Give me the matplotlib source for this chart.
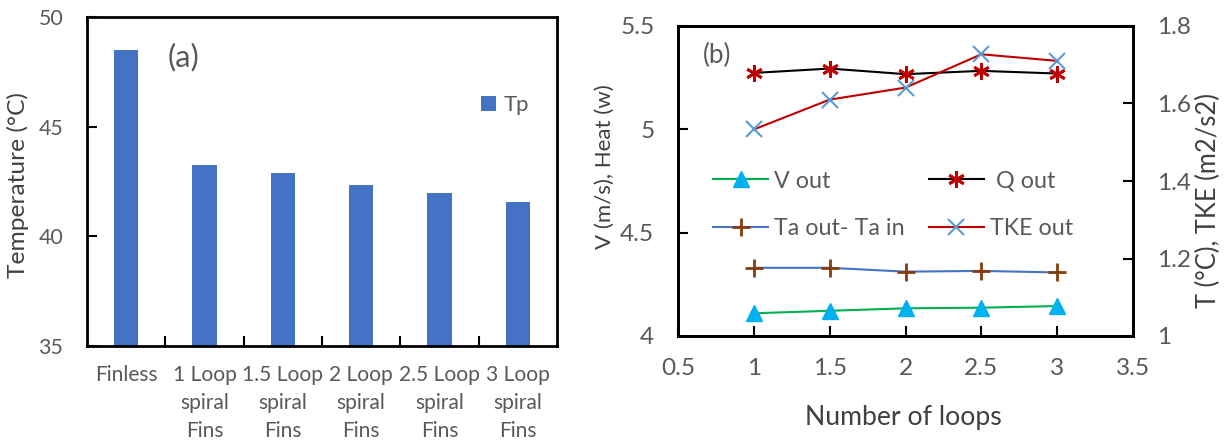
import matplotlib
matplotlib.use("Agg")
import matplotlib.pyplot as plt
from matplotlib.textpath import TextPath
from matplotlib.font_manager import FontProperties
import numpy as np

FONT = 'Lato'
plt.rcParams['font.family'] = [FONT, 'DejaVu Sans']

# ---- data (a) ----
categories = ["Finless", "1 Loop\nspiral\nFins", "1.5 Loop\nspiral\nFins",
              "2 Loop\nspiral\nFins", "2.5 Loop\nspiral\nFins", "3 Loop\nspiral\nFins"]
tp = [48.5, 43.24, 42.88, 42.35, 41.98, 41.58]
y_ticks_a = [35, 40, 45, 50]

# ---- data (b) ----
loops = [1, 1.5, 2, 2.5, 3]
v_out = [4.11, 4.122, 4.134, 4.137, 4.145]
q_out = [5.273, 5.294, 5.267, 5.283, 5.270]
ta_diff = [1.176, 1.176, 1.166, 1.168, 1.164]
tke_out = [1.533, 1.610, 1.641, 1.727, 1.710]
x_ticks_b = [0.5, 1, 1.5, 2, 2.5, 3, 3.5]
y_left_b = [4, 4.5, 5, 5.5]
y_right_b = [1, 1.2, 1.4, 1.6, 1.8]

GRAY = "#595959"
DARK = "#404040"
W, H, DPI = 1231, 441, 100


def fit(text, px):
    """font size (pt) so that the ink width of text is px pixels"""
    tpth = TextPath((0, 0), text, size=100, prop=FontProperties(family=FONT))
    w = tpth.get_extents().width
    return px * 72.0 / w


def fx(px):
    return px / W


def fy(py):
    return 1 - py / H


fig = plt.figure(figsize=(W / DPI, H / DPI), dpi=DPI)

tick_fs = fit("50", 23)
cat_fs = fit("Finless", 60)
cat_px = cat_fs * DPI / 72
cat_ls = (27.0 / cat_px - 0.2) / 0.74

# ---------- panel (a) ----------
L, R, T, B = 87, 557, 17, 346
ax1 = fig.add_axes([fx(L), fy(B), fx(R - L), (B - T) / H])
x = np.arange(len(categories))
ax1.bar(x, tp, width=0.31, color="#4472C4", label="Tp")
ax1.set_ylim(35, 50)
ax1.set_xlim(-0.5, len(categories) - 0.5)
ax1.set_yticks(y_ticks_a)
ax1.set_xticks(x)
ax1.set_xticklabels(categories, fontsize=cat_fs, color=GRAY, linespacing=cat_ls)
ax1.set_xticks(np.arange(0.5, len(categories) - 1, 1), minor=True)
ax1.tick_params(axis='x', which='major', length=0, pad=14)
ax1.tick_params(axis='x', which='minor', direction='in', length=7, width=1.5)
ax1.tick_params(axis='y', direction='in', length=7, width=1.5, labelsize=tick_fs,
                labelcolor=GRAY, pad=17)
for s in ax1.spines.values():
    s.set_linewidth(2)
fig.text(fx(18), fy(185), "Temperature (°C)", rotation=90, ha='center', va='center',
         fontsize=fit("Temperature (°C)", 184), color=DARK)
fig.text(fx(168), fy(57), "(a)", ha='left', va='center',
         fontsize=fit("(a)", 29), color=GRAY)
tp_fs = fit("Tp", 24)
ax1.legend(loc="center left", bbox_to_anchor=(fx(481), fy(105)),
           bbox_transform=fig.transFigure, frameon=False, borderpad=0,
           borderaxespad=0, fontsize=tp_fs, handlelength=0.7, handleheight=0.7,
           handletextpad=0.35, labelcolor=GRAY)

# ---------- panel (b) ----------
L2, R2, T2, B2 = 678, 1133, 26, 336
ax2 = fig.add_axes([fx(L2), fy(B2), fx(R2 - L2), (B2 - T2) / H])
ax3 = ax2.twinx()
ax2.set_xlim(0.5, 3.5)
ax2.set_ylim(4, 5.5)
ax3.set_ylim(1, 1.8)
ax2.set_xticks(x_ticks_b)
ax2.set_xticklabels([f"{v:g}" for v in x_ticks_b])
ax2.set_yticks(y_left_b)
ax2.set_yticklabels([f"{v:g}" for v in y_left_b])
ax3.set_yticks(y_right_b)
ax3.set_yticklabels([f"{v:g}" for v in y_right_b])

h1, = ax2.plot(loops, v_out, color="#00B050", lw=1.5, marker="^", ms=11,
               mfc="#00B0F0", mec="#00B0F0", label="V out")
h2, = ax2.plot(loops, q_out, color="black", lw=1.5, marker=(6, 2, 0), ms=12,
               mec="#C00000", mew=2, label=" Q out")
h3, = ax3.plot(loops, ta_diff, color="#4472C4", lw=1.5, marker="+", ms=13,
               mec="#843C0C", mew=2, label="Ta out- Ta in")
h4, = ax3.plot(loops, tke_out, color="#C00000", lw=1.5, marker="x", ms=11,
               mec="#5B9BD5", mew=1.5, label="TKE out")

btick_fs = fit("5.5", 31)
ax2.tick_params(axis='both', direction='in', length=7, width=1.5, labelsize=btick_fs,
                labelcolor=GRAY)
ax2.tick_params(axis='x', pad=16)
ax2.tick_params(axis='y', pad=17)
ax3.tick_params(axis='y', direction='in', length=7, width=1.5, labelsize=btick_fs,
                labelcolor=GRAY, pad=17)
for a in (ax2, ax3):
    for s in a.spines.values():
        s.set_linewidth(2)
fig.text(fx(903), fy(418), "Number of loops", ha='center', va='center',
         fontsize=fit("Number of loops", 193), color=DARK)
fig.text(fx(605), fy(167), "V (m/s), Heat (w)", rotation=90, ha='center', va='center',
         fontsize=fit("V (m/s), Heat (w)", 163), color=DARK)
fig.text(fx(1208), fy(200), "T (°C), TKE (m2/s2)", rotation=90, ha='center',
         va='center', fontsize=fit("T (°C), TKE (m2/s2)", 214), color=DARK)
fig.text(fx(703), fy(55), "(b)", ha='left', va='center',
         fontsize=fit("(b)", 26), color=GRAY)

leg_fs = fit("Ta out- Ta in", 128)
leg_px = leg_fs * DPI / 72
ax2.legend([h1, h3, h2, h4], ["V out", "Ta out- Ta in", " Q out", "TKE out"],
           ncol=2, loc="center left", bbox_to_anchor=(fx(713), fy(205)),
           bbox_transform=fig.transFigure, frameon=False, borderpad=0,
           borderaxespad=0, fontsize=leg_fs, labelcolor=GRAY,
           handlelength=55 / leg_px, handletextpad=6 / leg_px,
           labelspacing=(50 - 1.0 * leg_px) / leg_px, columnspacing=24 / leg_px)

fig.savefig("out.png", dpi=DPI)
